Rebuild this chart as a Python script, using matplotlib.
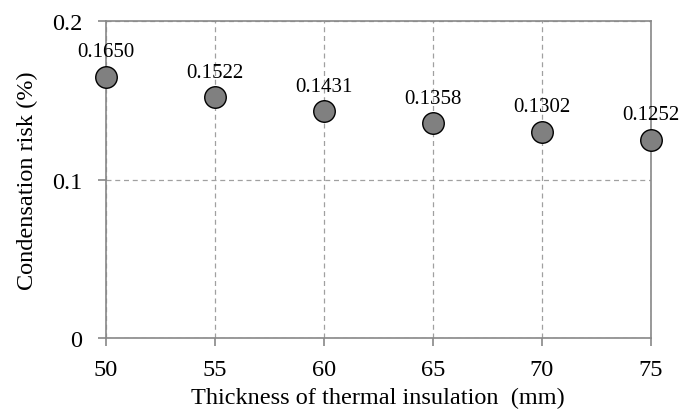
import matplotlib
matplotlib.use("Agg")
import matplotlib.pyplot as plt

thickness = [50, 55, 60, 65, 70, 75]
risk = [0.1650, 0.1522, 0.1431, 0.1358, 0.1302, 0.1252]
labels = ["0.1650", "0.1522", "0.1431", "0.1358", "0.1302", "0.1252"]
xticks = [50, 55, 60, 65, 70, 75]
yticks = [0, 0.1, 0.2]
yticklabels = ["0", "0.1", "0.2"]

plt.rcParams['font.family'] = ['Liberation Serif', 'DejaVu Serif']

fig = plt.figure(figsize=(6.8, 4.14), dpi=100)
ax = fig.add_axes([0.1554, 0.1804, 0.957 - 0.1554, 0.9469 - 0.1804])

ax.scatter(thickness, risk, s=15.5**2, color='#808080', edgecolors='black',
           linewidths=1.0, zorder=3, clip_on=False)
for x, y, t in zip(thickness, risk, labels):
    ax.annotate(t, (x, y), xytext=(0, 11), textcoords='offset points',
                ha='center', va='bottom', fontsize=15, annotation_clip=False)

ax.set_xlim(50, 75)
ax.set_ylim(0, 0.2)
ax.set_xticks(xticks)
ax.set_xticklabels([str(v) for v in xticks], fontsize=17.5)
ax.set_yticks(yticks)
ax.set_yticklabels(yticklabels, fontsize=17.5)
ax.grid(True, color='#a0a0a0', linestyle=(0, (4, 3)), linewidth=0.9)
ax.set_axisbelow(True)
for s in ax.spines.values():
    s.set_color('#888888')
    s.set_linewidth(1.2)
ax.tick_params(axis='both', color='#888888', length=6, width=1.2, direction='out')
ax.tick_params(axis='x', pad=9)
ax.tick_params(axis='y', pad=11)
ax.set_xlabel('Thickness of thermal insulation  (mm)', fontsize=17.5, labelpad=5)
ax.set_ylabel('Condensation risk (%)', fontsize=17.5, labelpad=10)

fig.savefig('out.png', dpi=100)
